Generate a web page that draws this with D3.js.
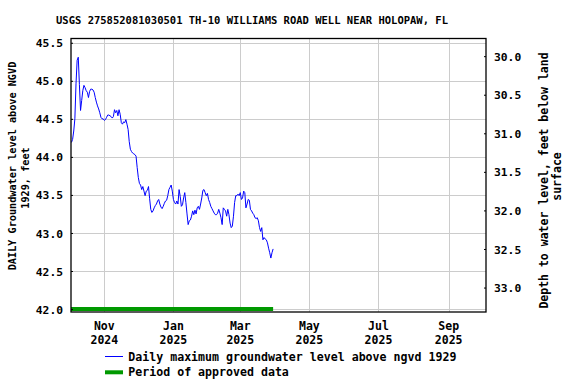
<!DOCTYPE html>
<html>
<head>
<meta charset="utf-8">
<script src="https://cdn.jsdelivr.net/npm/d3@7"></script>
<style>
  html, body { margin: 0; padding: 0; background: #fff; }
  svg { display: block; }
  text { font-family: "DejaVu Sans Mono", "Liberation Mono", monospace; font-weight: bold; fill: #000; }
</style>
</head>
<body>
<svg id="chart" width="576" height="384"></svg>
<script>
// ---------------- DATA ----------------
const titleText = "USGS 275852081030501 TH-10 WILLIAMS ROAD WELL NEAR HOLOPAW, FL";
const firstDate = "2024-10-03";
// daily maximum groundwater level above NGVD 1929, feet (one value per day from firstDate)
const levelValues = [
  44.19, 44.23, 44.34, 44.50, 44.96, 45.27, 45.31, 44.95, 44.61, 44.74,
  44.87, 44.94, 44.91, 44.87, 44.85, 44.78, 44.86, 44.89, 44.89, 44.88,
  44.85, 44.78, 44.72, 44.67, 44.63, 44.58, 44.52, 44.50, 44.50, 44.48,
  44.49, 44.52, 44.55, 44.55, 44.54, 44.53, 44.51, 44.53, 44.62, 44.58,
  44.61, 44.54, 44.62, 44.56, 44.45, 44.43, 44.46, 44.45, 44.49, 44.43,
  44.36, 44.20, 44.10, 44.07, 44.05, 44.04, 44.03, 44.01, 43.86, 43.73,
  43.65, 43.63, 43.57, 43.61, 43.55, 43.49, 43.55, 43.56, 43.61, 43.45,
  43.31, 43.27, 43.29, 43.33, 43.36, 43.38, 43.42, 43.44, 43.38, 43.34,
  43.32, 43.35, 43.39, 43.42, 43.43, 43.49, 43.57, 43.60, 43.63, 43.55,
  43.44, 43.40, 43.38, 43.42, 43.38, 43.57, 43.48, 43.35, 43.37, 43.46,
  43.53, 43.40, 43.25, 43.11, 43.16, 43.17, 43.22, 43.29, 43.24, 43.30,
  43.25, 43.33, 43.35, 43.31, 43.38, 43.46, 43.56, 43.57, 43.53, 43.49,
  43.52, 43.44, 43.40, 43.35, 43.32, 43.29, 43.26, 43.24, 43.24, 43.26,
  43.31, 43.26, 43.20, 43.11, 43.33, 43.31, 43.29, 43.22, 43.31, 43.24,
  43.13, 43.07, 43.09, 43.22, 43.40, 43.49, 43.49, 43.51, 43.49, 43.53,
  43.44, 43.46, 43.55, 43.53, 43.33, 43.38, 43.44, 43.43, 43.31, 43.29,
  43.26, 43.24, 43.20, 43.19, 43.20, 43.16, 43.07, 43.02, 43.07, 42.91,
  42.94, 42.92, 42.91, 42.87, 42.80, 42.74, 42.67, 42.74, 42.79
];
const approvedPeriod = ["2024-10-02", "2025-03-30"];
const xDomain = ["2024-10-02T14:00", "2025-10-03T22:00"];
const leftDomain = [41.961, 45.556];
const rightDomain = [33.317, 29.771]; // depth to water, feet below land surface (bottom, top)
const leftTicks = [42.0, 42.5, 43.0, 43.5, 44.0, 44.5, 45.0, 45.5];
const rightTicks = [30.0, 30.5, 31.0, 31.5, 32.0, 32.5, 33.0];
const monthTicks = ["2024-11-01", "2025-01-01", "2025-03-01", "2025-05-01", "2025-07-01", "2025-09-01"];
const monthLabels = [["Nov", "2024"], ["Jan", "2025"], ["Mar", "2025"], ["May", "2025"], ["Jul", "2025"], ["Sep", "2025"]];
const leftLabel = ["DAILY Groundwater level above NGVD", "1929, feet"];
const rightLabel = ["Depth to water level, feet below land", "surface"];
const legendItems = ["Daily maximum groundwater level above ngvd 1929", "Period of approved data"];

// ---------------- LAYOUT ----------------
const plot = { left: 71, right: 486, top: 38.5, bottom: 312 };
const parse = d3.timeParse("%Y-%m-%d");
const parseT = d3.timeParse("%Y-%m-%dT%H:%M");

const x = d3.scaleTime().domain(xDomain.map(parseT)).range([plot.left, plot.right]);
const y = d3.scaleLinear().domain(leftDomain).range([plot.bottom, plot.top]);
const yR = d3.scaleLinear().domain(rightDomain).range([plot.bottom, plot.top]);

const start = parse(firstDate);
const series = levelValues.map((v, i) => ({ date: d3.timeDay.offset(start, i), value: v }));

const svg = d3.select("#chart");

// grid
const grid = svg.append("g").attr("stroke", "#cccccc").attr("stroke-width", 1);
grid.selectAll("line.h").data(leftTicks).join("line")
  .attr("x1", plot.left).attr("x2", plot.right)
  .attr("y1", d => Math.round(y(d)) + 0.5).attr("y2", d => Math.round(y(d)) + 0.5);
grid.selectAll("line.v").data(monthTicks).join("line")
  .attr("y1", plot.top).attr("y2", plot.bottom)
  .attr("x1", d => Math.round(x(parse(d))) + 0.5).attr("x2", d => Math.round(x(parse(d))) + 0.5);

// clip
svg.append("clipPath").attr("id", "clip").append("rect")
  .attr("x", plot.left).attr("y", plot.top)
  .attr("width", plot.right - plot.left).attr("height", plot.bottom - plot.top);

// approved period bar
svg.append("line")
  .attr("clip-path", "url(#clip)")
  .attr("x1", x(parse(approvedPeriod[0]))).attr("x2", x(parse(approvedPeriod[1])))
  .attr("y1", y(42.0)).attr("y2", y(42.0))
  .attr("stroke", "#009900").attr("stroke-width", 4);

// data line
svg.append("path")
  .datum(series)
  .attr("clip-path", "url(#clip)")
  .attr("fill", "none")
  .attr("stroke", "#0000ff")
  .attr("stroke-width", 1)
  .attr("d", d3.line().x(d => x(d.date)).y(d => y(d.value)));

// frame
svg.append("rect")
  .attr("x", plot.left).attr("y", plot.top)
  .attr("width", plot.right - plot.left).attr("height", plot.bottom - plot.top)
  .attr("fill", "none").attr("stroke", "#000").attr("stroke-width", 1.3);

// left axis
const leftAxis = d3.axisLeft(y).tickValues(leftTicks).tickFormat(d3.format(".1f")).tickSize(-2).tickPadding(8);
const gL = svg.append("g").attr("transform", `translate(${plot.left},0)`).call(leftAxis);
gL.select(".domain").remove();
gL.selectAll("text").style("font-size", "11.3px").attr("dy", "0.36em");

// right axis
const rightAxis = d3.axisRight(yR).tickValues(rightTicks).tickFormat(d3.format(".1f")).tickSize(-2).tickPadding(8);
const gR = svg.append("g").attr("transform", `translate(${plot.right},0)`).call(rightAxis);
gR.select(".domain").remove();
gR.selectAll("text").style("font-size", "11.3px").attr("dy", "0.36em");

// x axis labels (two lines)
const gX = svg.append("g");
monthTicks.forEach((m, i) => {
  const t = gX.append("text")
    .attr("text-anchor", "middle")
    .style("font-size", "11.5px")
    .attr("x", x(parse(m)));
  t.append("tspan").attr("x", x(parse(m))).attr("y", 330).text(monthLabels[i][0]);
  t.append("tspan").attr("x", x(parse(m))).attr("y", 343.5).text(monthLabels[i][1]);
});

// title
svg.append("text")
  .attr("x", 252).attr("y", 24)
  .attr("text-anchor", "middle")
  .style("font-size", "10.5px")
  .text(titleText);

// left axis title
svg.append("text")
  .attr("transform", "translate(15.5,166) rotate(-90)")
  .attr("text-anchor", "middle").style("font-size", "10.2px")
  .text(leftLabel[0]);
svg.append("text")
  .attr("transform", "translate(28.5,178) rotate(-90)")
  .attr("text-anchor", "middle").style("font-size", "10.2px")
  .text(leftLabel[1]);

// right axis title
svg.append("text")
  .attr("transform", "translate(547.5,180.5) rotate(-90)")
  .attr("text-anchor", "middle").style("font-size", "11.5px")
  .text(rightLabel[0]);
svg.append("text")
  .attr("transform", "translate(561,176.5) rotate(-90)")
  .attr("text-anchor", "middle").style("font-size", "11.5px")
  .text(rightLabel[1]);

// legend
const lg = svg.append("g");
lg.append("line").attr("x1", 105).attr("x2", 123).attr("y1", 356.5).attr("y2", 356.5)
  .attr("stroke", "#0000ff").attr("stroke-width", 1);
lg.append("text").attr("x", 128.3).attr("y", 360.5).style("font-size", "11.6px").text(legendItems[0]);
lg.append("line").attr("x1", 105).attr("x2", 123).attr("y1", 372.3).attr("y2", 372.3)
  .attr("stroke", "#009900").attr("stroke-width", 4);
lg.append("text").attr("x", 128.3).attr("y", 376).style("font-size", "11.6px").text(legendItems[1]);
</script>
</body>
</html>
